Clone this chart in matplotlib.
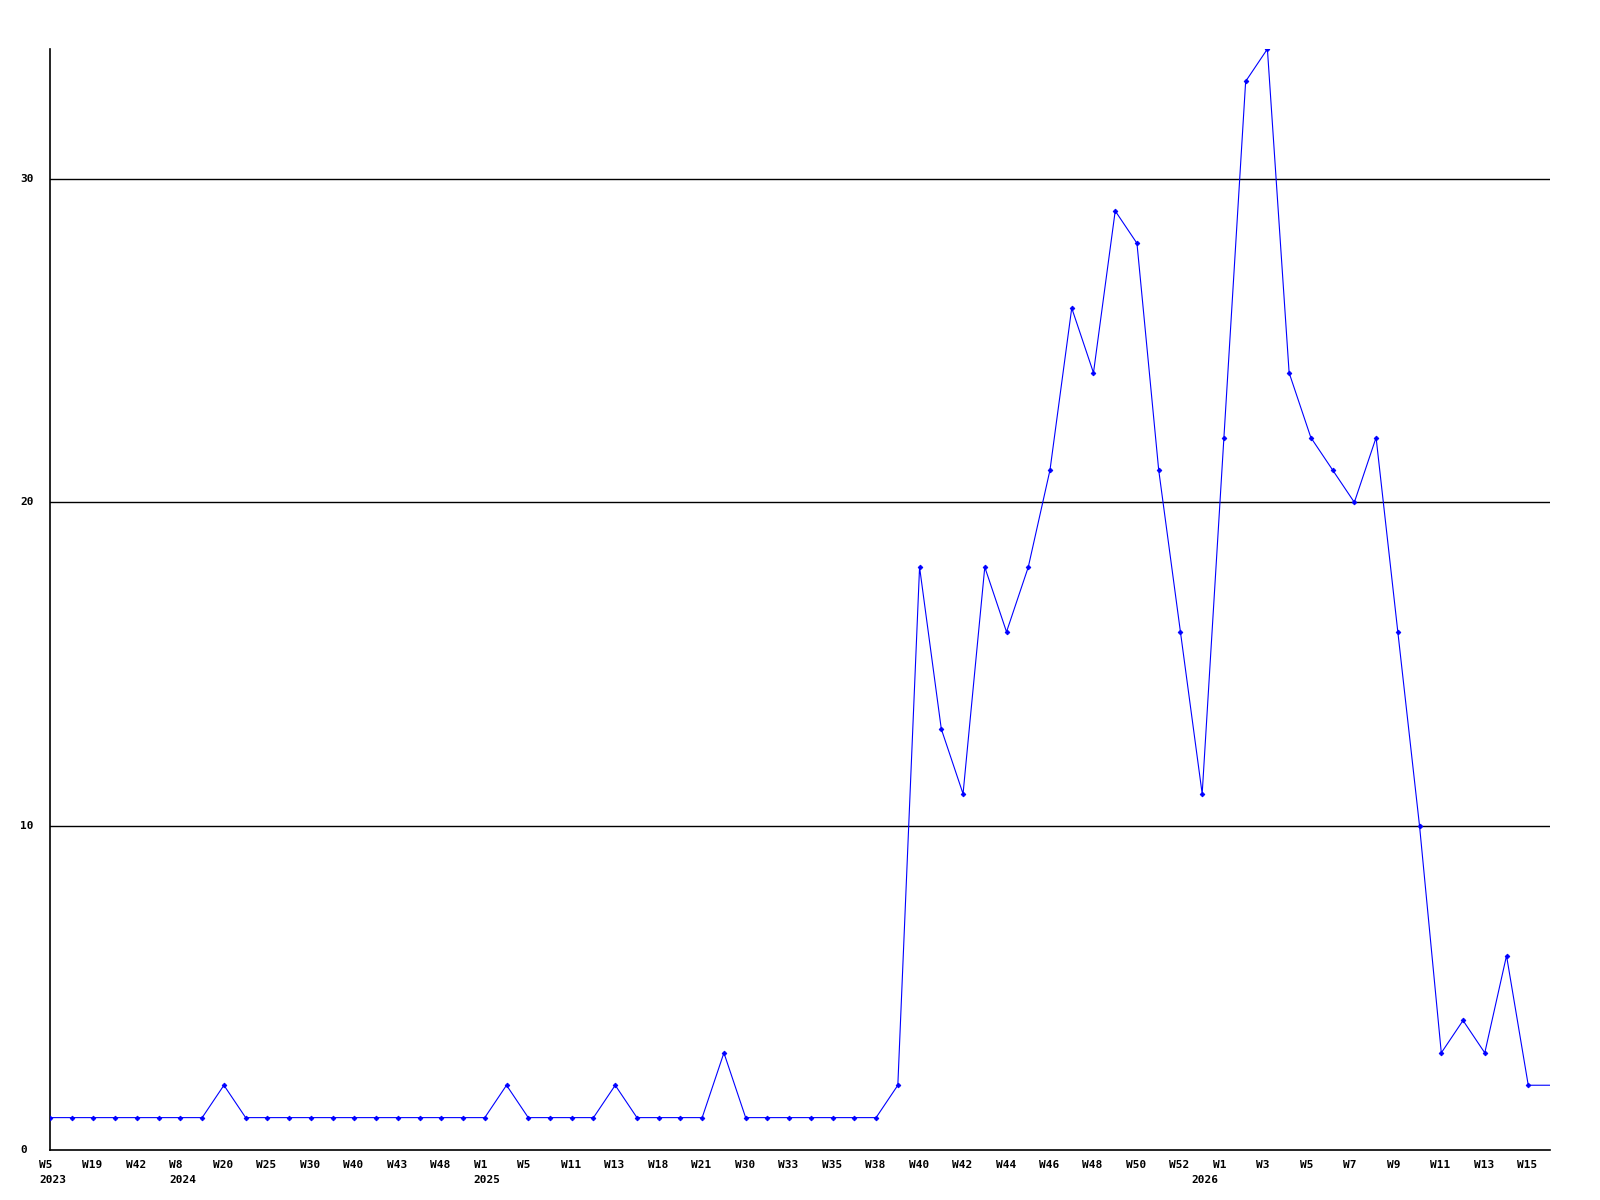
import numpy as np
import matplotlib
matplotlib.use("Agg")
import matplotlib.pyplot as plt
import matplotlib.transforms as mtransforms

# weekly counts, one entry per plotted week
counts = [1, 1, 1, 1, 1, 1, 1, 1, 2, 1,
          1, 1, 1, 1, 1, 1, 1, 1, 1, 1,
          1, 2, 1, 1, 1, 1, 2, 1, 1, 1,
          1, 3, 1, 1, 1, 1, 1, 1, 1, 2,
          18, 13, 11, 18, 16, 18, 21, 26, 24, 29,
          28, 21, 16, 11, 22, 33, 34, 24, 22, 21,
          20, 22, 16, 10, 3, 4, 3, 6, 2, 2]

# labels shown on every second week
week_labels = ["W5", "W19", "W42", "W8", "W20", "W25", "W30", "W40", "W43", "W48",
               "W1", "W5", "W11", "W13", "W18", "W21", "W30", "W33", "W35", "W38",
               "W40", "W42", "W44", "W46", "W48", "W50", "W52", "W1", "W3", "W5",
               "W7", "W9", "W11", "W13", "W15"]
year_labels = ["2023", "2024", "2025", "2026"]
year_index = [0, 6, 20, 53]
y_ticks = [0, 10, 20, 30]

W, H = 1600, 1200
fig = plt.figure(figsize=(16, 12), dpi=100)
ax = fig.add_axes([50 / W, 1 - 1150 / H, 1500 / W, 1101 / H])

x = np.arange(len(counts))
ax.plot(x, counts, color="#0000ff", lw=0.8, zorder=3)
ax.plot(x[:-1], counts[:-1], ls="none", marker="D", ms=2.4, mew=0.6, color="#0000ff", zorder=4)

ax.set_xlim(0, len(counts) - 1)
ax.set_ylim(0, 34)

for s in ["top", "right"]:
    ax.spines[s].set_visible(False)
for s in ["left", "bottom"]:
    ax.spines[s].set_color("black")
    ax.spines[s].set_linewidth(1.2)

ax.set_xticks([])
ax.set_yticks([])
for v in y_ticks[1:]:
    ax.axhline(v, color="black", lw=1.0, zorder=1)

font = dict(family="DejaVu Sans Mono", fontsize=8, fontweight="bold", color="black")

# week/year labels under the axis, left edge a bit before the point
trans = mtransforms.blended_transform_factory(ax.transData, ax.transAxes)
off = mtransforms.ScaledTranslation(-11 / 100, 0, fig.dpi_scale_trans)
for k, lab in enumerate(week_labels):
    ax.text(2 * k, -10 / 1101, lab, transform=trans + off, ha="left", va="top", **font)
for i, lab in zip(year_index, year_labels):
    ax.text(i, -25 / 1101, lab, transform=trans + off, ha="left", va="top", **font)

ytrans = mtransforms.blended_transform_factory(fig.transFigure, ax.transData)
for v in y_ticks:
    ax.text(20 / W, v, str(v), transform=ytrans, ha="left", va="center", **font)

fig.savefig("out.png", dpi=100, facecolor="white")
